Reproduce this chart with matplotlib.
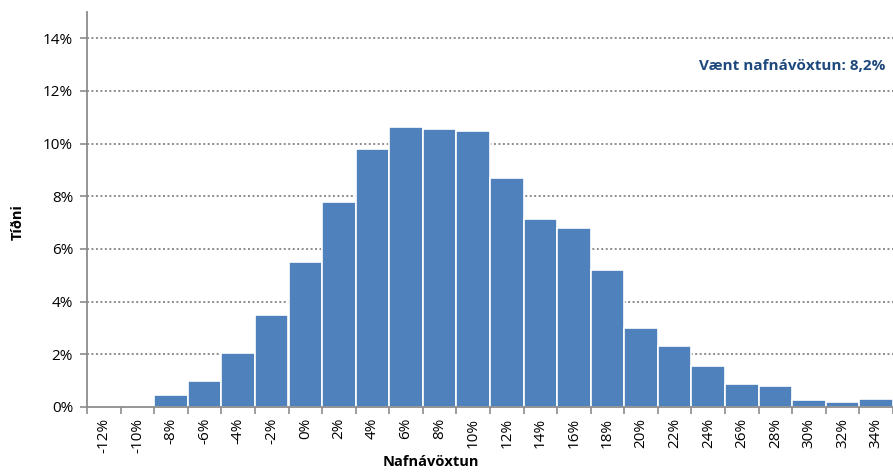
import matplotlib
matplotlib.use("Agg")
import matplotlib.pyplot as plt
from matplotlib.ticker import FixedLocator, NullFormatter, FixedFormatter

# Return buckets (nominal return, %) and the share of outcomes in each
buckets = [-12, -10, -8, -6, -4, -2, 0, 2, 4, 6, 8, 10, 12, 14, 16, 18,
           20, 22, 24, 26, 28, 30, 32, 34]
freq_pct = [0.0, 0.0, 0.45, 1.0, 2.05, 3.5, 5.5, 7.78, 9.79, 10.62, 10.55,
            10.47, 8.69, 7.13, 6.79, 5.2, 3.0, 2.31, 1.56, 0.87, 0.8,
            0.27, 0.19, 0.3]
y_ticks = [0, 2, 4, 6, 8, 10, 12, 14]
expected_label = "Vænt nafnávöxtun: 8,2%"

plt.rcParams['font.family'] = ['Open Sans', 'DejaVu Sans']

W, H, DPI = 893, 472, 100
fig = plt.figure(figsize=(W / DPI, H / DPI), dpi=DPI)
left, right, top, bottom = 87, 893, 12, 407
ax = fig.add_axes([left / W, 1 - bottom / H, (right - left) / W, (bottom - top) / H])

pos = list(range(len(buckets)))
ax.bar(pos, freq_pct, width=1.0, color="#4F81BD", edgecolor="white",
       linewidth=1.2, zorder=3)

ax.set_xlim(-0.5, len(buckets) - 0.5)
ax.set_ylim(0, 15)

# Dotted horizontal gridlines
for v in y_ticks[1:]:
    ax.axhline(v, color="#8C8C8C", linestyle=(0, (1.0, 1.3)), linewidth=1.4, zorder=1)

ax.set_yticks(y_ticks)
ax.set_yticklabels([f"{v}%" for v in y_ticks], fontsize=11)

# Tick marks on category boundaries, labels centred on categories
ax.xaxis.set_major_locator(FixedLocator([p - 0.5 for p in pos] + [len(pos) - 0.5]))
ax.xaxis.set_major_formatter(NullFormatter())
ax.xaxis.set_minor_locator(FixedLocator(pos))
ax.xaxis.set_minor_formatter(FixedFormatter([f"{b}%" for b in buckets]))
ax.tick_params(axis="x", which="major", length=5, color="#8C8C8C", width=1.2)
ax.tick_params(axis="x", which="minor", length=0, labelsize=11, rotation=90, pad=8)
ax.tick_params(axis="y", length=5, color="#8C8C8C", width=1.2, labelsize=11, pad=5)

for s in ["top", "right"]:
    ax.spines[s].set_visible(False)
for s in ["left", "bottom"]:
    ax.spines[s].set_color("#8C8C8C")
    ax.spines[s].set_linewidth(1.3)
    ax.spines[s].set_zorder(4)

fig.text(18 / W, 1 - 222 / H, "Tíðni", rotation=90, ha="center", va="center",
         fontsize=10.5, fontweight="bold")
fig.text(431 / W, 1 - 462 / H, "Nafnávöxtun", ha="center", va="center",
         fontsize=10.5, fontweight="bold")
fig.text(885 / W, 1 - 66 / H, expected_label, ha="right", va="center",
         fontsize=11, fontweight="bold", color="#1F497D")

fig.savefig("out.png", dpi=DPI)
